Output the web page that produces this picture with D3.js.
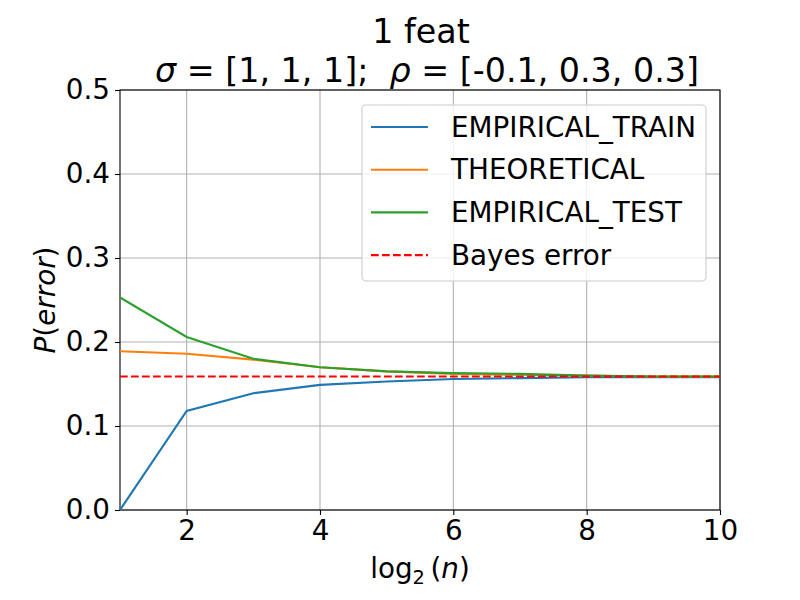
<!DOCTYPE html>
<html>
<head>
<meta charset="utf-8">
<script src="https://cdn.jsdelivr.net/npm/d3@7"></script>
<style>
    body { margin: 0; background: #fff; }
    svg { font-family: "DejaVu Sans", sans-serif; }
</style>
</head>
<body>
<div id="chart"></div>
<script>
// Données
const log2n = [1, 2, 3, 4, 5, 6, 7, 8, 9, 10];
const empiricalTrain = [0.0, 0.118, 0.139, 0.149, 0.153, 0.156, 0.157, 0.158, 0.158, 0.158];
const theoretical = [0.189, 0.186, 0.179, 0.170, 0.165, 0.162, 0.161, 0.160, 0.159, 0.159];
const empiricalTest = [0.253, 0.206, 0.180, 0.170, 0.165, 0.163, 0.162, 0.160, 0.159, 0.159];
const bayesError = 0.159;
const xTicks = [2, 4, 6, 8, 10];
const yTicks = [0, 0.1, 0.2, 0.3, 0.4, 0.5];
const seriesNames = ['EMPIRICAL_TRAIN', 'THEORETICAL', 'EMPIRICAL_TEST', 'Bayes error'];
const seriesColors = ['#1f77b4', '#ff7f0e', '#2ca02c', 'red'];

const width = 800, height = 600;
const margin = { top: 90, right: 80, bottom: 90, left: 120 };
const fontSize = 27.8;
const titleSize = 33.3;

const svg = d3.select('#chart').append('svg')
    .attr('width', width)
    .attr('height', height);

const x = d3.scaleLinear().domain([1, 10]).range([margin.left, width - margin.right]);
const y = d3.scaleLinear().domain([0, 0.5]).range([height - margin.bottom, margin.top]);

// Grille
svg.append('g')
    .selectAll('line.vx')
    .data(xTicks)
    .enter()
    .append('line')
    .attr('x1', d => x(d)).attr('x2', d => x(d))
    .attr('y1', y(0)).attr('y2', y(0.5))
    .attr('stroke', '#b0b0b0')
    .attr('stroke-width', 1.1);

svg.append('g')
    .selectAll('line.hy')
    .data(yTicks)
    .enter()
    .append('line')
    .attr('x1', x(1)).attr('x2', x(10))
    .attr('y1', d => y(d)).attr('y2', d => y(d))
    .attr('stroke', '#b0b0b0')
    .attr('stroke-width', 1.1);

// Axes
const xAxis = svg.append('g')
    .attr('transform', `translate(0,${y(0)})`)
    .call(d3.axisBottom(x).tickValues(xTicks).tickSize(5).tickPadding(5).tickFormat(d3.format('d')));
const yAxis = svg.append('g')
    .attr('transform', `translate(${x(1)},0)`)
    .call(d3.axisLeft(y).tickValues(yTicks).tickSize(5).tickPadding(5).tickFormat(d3.format('.1f')));

[xAxis, yAxis].forEach(ax => {
    ax.select('.domain').remove();
    ax.selectAll('line').attr('stroke', '#000').attr('stroke-width', 1.1);
    ax.selectAll('text')
        .attr('fill', '#000')
        .style('font-size', fontSize + 'px')
        .style('font-family', '"DejaVu Sans", sans-serif');
});

// Cadre
svg.append('rect')
    .attr('x', x(1)).attr('y', y(0.5))
    .attr('width', x(10) - x(1)).attr('height', y(0) - y(0.5))
    .attr('fill', 'none')
    .attr('stroke', '#000')
    .attr('stroke-width', 1.1);

// Courbes
const line = d3.line()
    .x((d, i) => x(log2n[i]))
    .y(d => y(d));

svg.append('clipPath').attr('id', 'clip')
    .append('rect')
    .attr('x', x(1)).attr('y', y(0.5) - 2)
    .attr('width', x(10) - x(1)).attr('height', y(0) - y(0.5) + 4);

const plot = svg.append('g').attr('clip-path', 'url(#clip)');

[empiricalTrain, theoretical, empiricalTest].forEach((values, i) => {
    plot.append('path')
        .datum(values)
        .attr('d', line)
        .attr('fill', 'none')
        .attr('stroke', seriesColors[i])
        .attr('stroke-width', 2.1);
});

plot.append('line')
    .attr('x1', x(1)).attr('x2', x(10))
    .attr('y1', y(bayesError)).attr('y2', y(bayesError))
    .attr('stroke', seriesColors[3])
    .attr('stroke-width', 2.1)
    .attr('stroke-dasharray', '7.7,3.3');

// Légende
const legend = svg.append('g');
legend.append('rect')
    .attr('x', 362).attr('y', 105)
    .attr('width', 344).attr('height', 176)
    .attr('rx', 4)
    .attr('fill', 'white')
    .attr('fill-opacity', 0.8)
    .attr('stroke', '#cccccc')
    .attr('stroke-width', 1.1);

const rows = legend.selectAll('g.row')
    .data(seriesNames)
    .enter()
    .append('g')
    .attr('transform', (d, i) => `translate(0,${127 + i * 42.7})`);

rows.append('line')
    .attr('x1', 371).attr('x2', 428)
    .attr('stroke', (d, i) => seriesColors[i])
    .attr('stroke-width', 2.1)
    .attr('stroke-dasharray', (d, i) => i === 3 ? '7.7,3.3' : null);

rows.append('text')
    .attr('x', 451)
    .attr('dy', '0.35em')
    .style('font-size', fontSize + 'px')
    .text(d => d);

// Titre
svg.append('text')
    .attr('x', 421).attr('y', 43)
    .attr('text-anchor', 'middle')
    .style('font-size', titleSize + 'px')
    .text('1 feat');

const subtitle = svg.append('text')
    .attr('x', 427).attr('y', 82)
    .attr('text-anchor', 'middle')
    .style('font-size', titleSize + 'px')
    .style('white-space', 'pre');
subtitle.append('tspan').style('font-style', 'italic').text('σ');
subtitle.append('tspan').text(' = [1, 1, 1];  ');
subtitle.append('tspan').style('font-style', 'italic').text('ρ');
subtitle.append('tspan').text(' = [-0.1, 0.3, 0.3]');

// Titres des axes
const xLabel = svg.append('text')
    .attr('x', 420).attr('y', 578)
    .attr('text-anchor', 'middle')
    .style('font-size', fontSize + 'px');
xLabel.append('tspan').text('log');
xLabel.append('tspan').attr('dy', 6).style('font-size', (fontSize * 0.7) + 'px').text('2');
xLabel.append('tspan').attr('dy', -6).text('\u2009(');
xLabel.append('tspan').style('font-style', 'italic').text('n');
xLabel.append('tspan').text(')');

const yLabel = svg.append('text')
    .attr('transform', `translate(55,${(y(0) + y(0.5)) / 2}) rotate(-90)`)
    .attr('text-anchor', 'middle')
    .style('font-size', fontSize + 'px');
yLabel.append('tspan').style('font-style', 'italic').text('P');
yLabel.append('tspan').text('(');
yLabel.append('tspan').style('font-style', 'italic').text('error');
yLabel.append('tspan').text(')');
</script>
</body>
</html>
